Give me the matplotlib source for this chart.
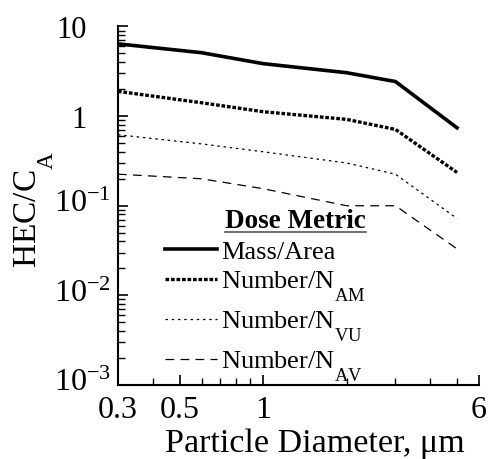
import matplotlib
matplotlib.use("Agg")
import matplotlib.pyplot as plt
from matplotlib.lines import Line2D
from matplotlib.transforms import blended_transform_factory, offset_copy

plt.rcParams['font.family'] = ['Liberation Serif', 'DejaVu Serif']
plt.rcParams['mathtext.fontset'] = 'custom'
plt.rcParams['mathtext.rm'] = 'Liberation Serif'
plt.rcParams['mathtext.it'] = 'Liberation Serif:italic'
plt.rcParams['mathtext.bf'] = 'Liberation Serif:bold'

# subscripts in the original sit fully below the baseline
try:
    import matplotlib._mathtext as _mt
    _mt.FontConstantsBase.sub1 = 1.1
except Exception:
    pass

# particle diameter (um) and HEC/C_A for each dose metric
diameter = [0.3, 0.6, 1.0, 2.0, 3.0, 5.0]
mass_area = [6.4, 5.1, 3.85, 3.05, 2.43, 0.74]
number_am = [1.89, 1.41, 1.12, 0.92, 0.71, 0.235]
number_vu = [0.62, 0.49, 0.40, 0.30, 0.225, 0.072]
number_av = [0.225, 0.20, 0.155, 0.10, 0.10, 0.033]

x_major = [0.3, 0.5, 1, 6]
x_major_labels = ['0.3', '0.5', '1', '6']
x_minor = [0.4, 0.6, 0.7, 0.8, 0.9, 2, 3, 4, 5]
y_decades = [10, 1, 0.1, 0.01, 0.001]
y_labels = ['10', '1', r'$\mathrm{10}^{\mathrm{-1}}$', r'$\mathrm{10}^{\mathrm{-2}}$',
            r'$\mathrm{10}^{\mathrm{-3}}$']

fig = plt.figure(figsize=(4.92, 4.59), dpi=100)
ax = fig.add_axes([0.2398, 0.1612, 0.7338, 0.7811])

ax.plot(diameter, mass_area, color='black', lw=2.6, solid_joinstyle='miter',
        label='Mass/Area')
ax.plot(diameter, number_am, color='black', lw=2.4, linestyle=(0, (1.1, 0.55)),
        label=r'Number/N$_{\mathrm{AM}}$')
ax.plot(diameter, number_vu, color='black', lw=0.9, linestyle=(0, (2, 3)),
        label=r'Number/N$_{\mathrm{VU}}$')
ax.plot(diameter, number_av, color='black', lw=0.9, linestyle=(0, (7, 5)),
        label=r'Number/N$_{\mathrm{AV}}$')

ax.set_xscale('log')
ax.set_yscale('log')
ax.set_xlim(0.3, 6)
ax.set_ylim(0.001, 10)

ax.spines['top'].set_visible(False)
ax.spines['right'].set_visible(False)
ax.spines['left'].set_linewidth(1.5)
ax.spines['bottom'].set_linewidth(1.5)

ax.set_xticks(x_major)
ax.set_xticklabels(x_major_labels)
ax.set_xticks(x_minor, minor=True)
ax.set_xticklabels([], minor=True)
ax.tick_params(axis='x', which='major', direction='in', length=7, width=1.2,
               labelsize=23, pad=8)
ax.tick_params(axis='x', which='minor', direction='in', length=5, width=1.0)

ax.yaxis.set_major_locator(matplotlib.ticker.LogLocator(base=10, numticks=10))
ax.yaxis.set_minor_locator(matplotlib.ticker.LogLocator(base=10, subs=range(2, 10), numticks=20))
ax.yaxis.set_major_formatter(matplotlib.ticker.NullFormatter())
ax.yaxis.set_minor_formatter(matplotlib.ticker.NullFormatter())
ax.tick_params(axis='y', which='major', direction='in', length=7, width=1.2)
ax.tick_params(axis='y', which='minor', direction='in', length=5, width=1.0)

# y tick labels: mantissa "10" aligned, exponents sticking out
trans = blended_transform_factory(ax.transAxes, ax.transData)
for val, lab in zip(y_decades, y_labels):
    if lab.startswith('$'):
        t = offset_copy(trans, fig=fig, x=0, y=-4.5, units='points')
        ax.text(-0.178, val, lab, transform=t, ha='left', va='baseline',
                fontsize=23, clip_on=False)
    else:
        t = offset_copy(trans, fig=fig, x=0, y=-3, units='points')
        ax.text(-0.087, val, lab, transform=t, ha='right', va='center',
                fontsize=22, clip_on=False)

ax.set_xlabel('Particle Diameter, \u03bcm', fontsize=24.5)
ax.xaxis.label.set_va('baseline')
ax.xaxis.set_label_coords(0.545, -0.187)
ax.set_ylabel(r'HEC/C$_{\mathrm{A}}$', fontsize=24)
ax.yaxis.set_label_coords(-0.172, 0.49)

leg = ax.legend(loc='upper left', bbox_to_anchor=(0.129, 0.49), frameon=False,
                fontsize=19, title='Dose Metric', handlelength=2.0,
                handletextpad=0.15, labelspacing=0.22, borderpad=0,
                borderaxespad=0, alignment='right',
                title_fontproperties={'weight': 'bold', 'size': 19.5})

# underline the legend title
fig.canvas.draw()
bb = leg.get_title().get_window_extent().transformed(fig.transFigure.inverted())
fig.add_artist(Line2D([bb.x0, bb.x1], [bb.y0 + 0.004, bb.y0 + 0.004],
                      transform=fig.transFigure, color='#555555', lw=1.2))

fig.savefig('out.png', dpi=100)
